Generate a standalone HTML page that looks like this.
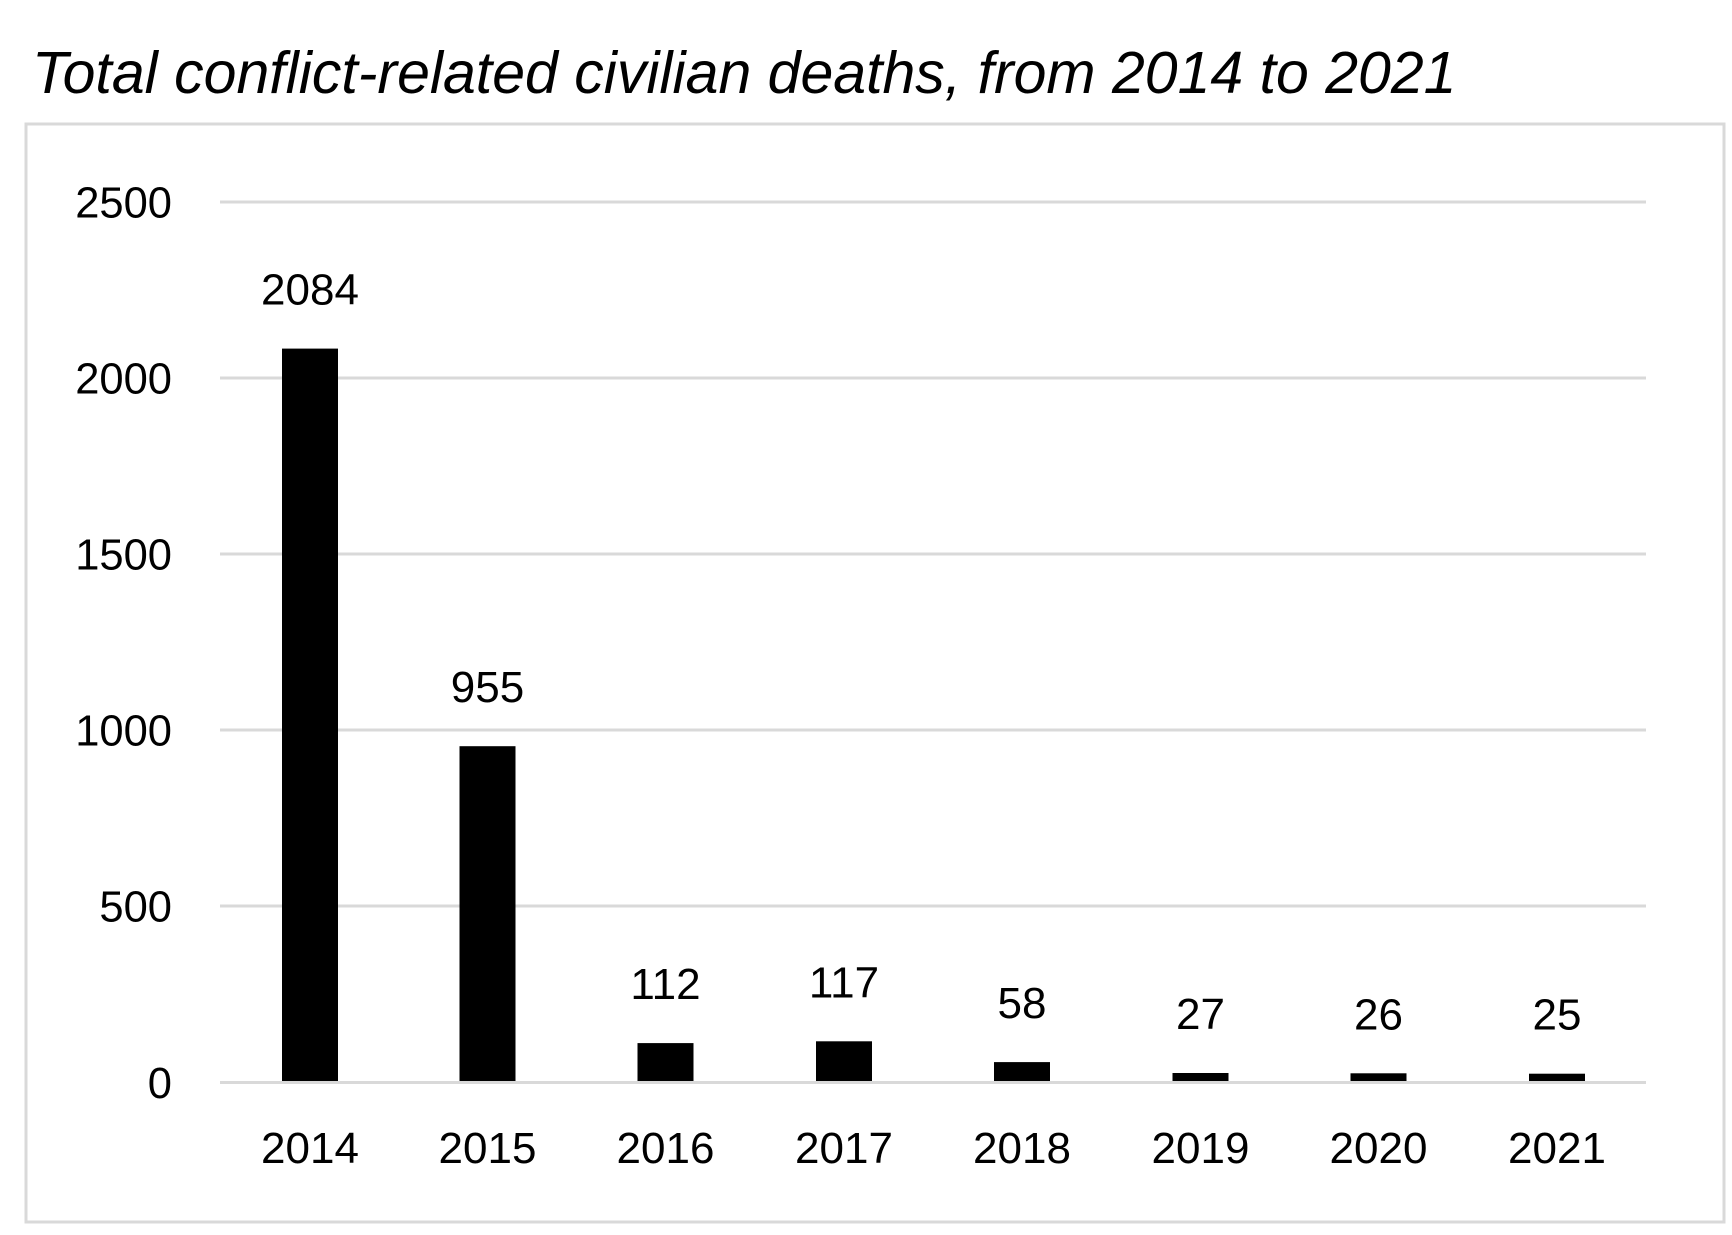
<!DOCTYPE html>
<html>
<head>
<meta charset="utf-8">
<style>
html,body{margin:0;padding:0;background:#fff;}
svg{display:block;}
text{font-family:"Liberation Sans",Arial,sans-serif;fill:#000;}
</style>
</head>
<body>
<svg width="1732" height="1235" viewBox="0 0 1732 1235" xmlns="http://www.w3.org/2000/svg">
<rect x="0" y="0" width="1732" height="1235" fill="#fff"/>
<text x="32" y="93" font-size="59" font-style="italic">Total conflict-related civilian deaths, from 2014 to 2021</text>
<rect x="26" y="124" width="1698" height="1098" fill="none" stroke="#d9d9d9" stroke-width="3"/>
<g stroke="#d9d9d9" stroke-width="3">
<line x1="220" y1="202" x2="1646" y2="202"/>
<line x1="220" y1="378" x2="1646" y2="378"/>
<line x1="220" y1="554" x2="1646" y2="554"/>
<line x1="220" y1="730" x2="1646" y2="730"/>
<line x1="220" y1="906" x2="1646" y2="906"/>
</g>
<g font-size="43.5" text-anchor="end">
<text x="172" y="217.5">2500</text>
<text x="172" y="393.5">2000</text>
<text x="172" y="569.5">1500</text>
<text x="172" y="745.5">1000</text>
<text x="172" y="921.5">500</text>
<text x="172" y="1098">0</text>
</g>
<g fill="#000">
<rect x="282" y="348.6" width="56" height="733.4"/>
<rect x="459.5" y="746.2" width="56" height="335.8"/>
<rect x="637.5" y="1043.1" width="56" height="38.9"/>
<rect x="816" y="1041.3" width="56" height="40.7"/>
<rect x="994" y="1062.1" width="56" height="19.9"/>
<rect x="1172.5" y="1073.0" width="56" height="9"/>
<rect x="1350.5" y="1073.3" width="56" height="8.7"/>
<rect x="1529" y="1073.7" width="56" height="8.3"/>
</g>
<line x1="220" y1="1082.5" x2="1646" y2="1082.5" stroke="#d9d9d9" stroke-width="3"/>
<g font-size="44" text-anchor="middle">
<text x="310" y="304.6">2084</text>
<text x="487.5" y="702.2">955</text>
<text x="665.5" y="999.1">112</text>
<text x="844" y="997.3">117</text>
<text x="1022" y="1018.1">58</text>
<text x="1200.5" y="1029">27</text>
<text x="1378.5" y="1029.3">26</text>
<text x="1557" y="1029.7">25</text>
</g>
<g font-size="44" text-anchor="middle">
<text x="310" y="1163">2014</text>
<text x="487.5" y="1163">2015</text>
<text x="665.5" y="1163">2016</text>
<text x="844" y="1163">2017</text>
<text x="1022" y="1163">2018</text>
<text x="1200.5" y="1163">2019</text>
<text x="1378.5" y="1163">2020</text>
<text x="1557" y="1163">2021</text>
</g>
</svg>
</body>
</html>
